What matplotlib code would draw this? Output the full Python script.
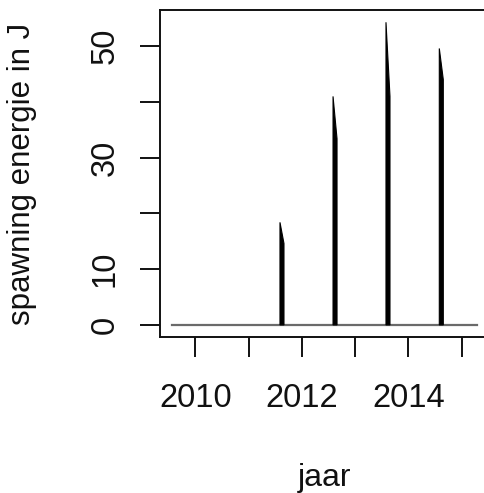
import matplotlib
matplotlib.use("Agg")
import matplotlib.pyplot as plt
import numpy as np

plt.rcParams['font.family'] = ['Liberation Sans', 'DejaVu Sans']

# baseline period (decimal year) where energy is 0
period = [2009.57, 2015.28]

# spawning events
spawn_start = [2011.59, 2012.585, 2013.578, 2014.578]   # year of onset
spawn_peak = [18.4, 41.0, 54.3, 49.6]                    # J at onset
spawn_end_val = [14.6, 33.4, 41.0, 44.0]                 # J at end of event
spawn_len = [0.075, 0.075, 0.075, 0.075]                 # duration in years

year_ticks = [2010, 2011, 2012, 2013, 2014, 2015]
year_labels = ["2010", "", "2012", "", "2014", ""]
y_ticks = [0, 10, 20, 30, 40, 50]
y_labels = ["0", "10", "", "30", "", "50"]

W, H = 484, 493
fig = plt.figure(figsize=(W / 100, H / 100), dpi=100)
ax = fig.add_axes([160 / W, 156 / H, 329 / W, 327 / H])

ax.plot(period, [0, 0], color='#6a6a6a', lw=1.6, zorder=2)
for t, pk, ev, d in zip(spawn_start, spawn_peak, spawn_end_val, spawn_len):
    xs = [t, t, t + d, t + d]
    ys = [0, pk, ev, 0]
    ax.fill(xs, ys, color='black', lw=0.8, zorder=3)

ax.set_xlim(2009.34, 2015.51)
ax.set_ylim(-2.17, 56.5)

ax.set_xticks(year_ticks)
ax.set_xticklabels(year_labels)
ax.set_yticks(y_ticks)
ax.set_yticklabels(y_labels, rotation=90, va='center')

ax.tick_params(length=14.4, width=1.4, labelsize=23.5, colors='#111111')
ax.tick_params(axis='x', pad=19)
ax.tick_params(axis='y', pad=14)
for s in ax.spines.values():
    s.set_linewidth(1.4)
    s.set_color('#111111')

fig.text(324.5 / W, 7 / H, "jaar", ha='center', va='baseline', fontsize=23,
         color='#111111')
fig.text(30 / W, (H - 173.5) / H, "spawning energie in J", ha='center',
         va='baseline', rotation=90, rotation_mode='anchor', fontsize=22.5,
         color='#111111')

fig.savefig("out.png", dpi=100)
